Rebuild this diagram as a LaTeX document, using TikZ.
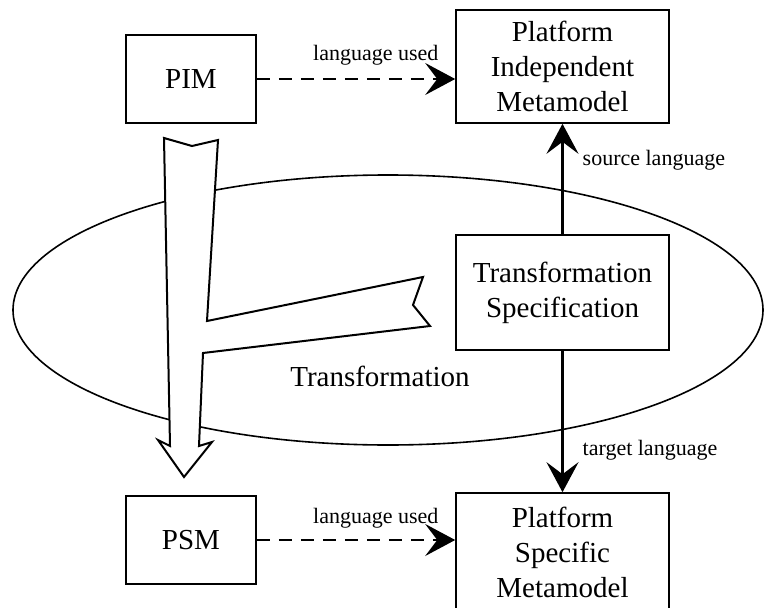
\documentclass[tikz,border=0pt]{standalone}
\usepackage{fontspec}
\setmainfont{Liberation Serif}
\usetikzlibrary{arrows.meta,shapes.geometric}

\tikzset{
  model/.style={draw, line width=1.6pt, minimum width=130pt, minimum height=88pt,
    font=\fontsize{29}{35}\selectfont},
  metamodel/.style={draw, line width=1.6pt, minimum width=213pt, align=center,
    font=\fontsize{29}{35}\selectfont},
  usedarrow/.style={line width=1.4pt, dash pattern=on 13pt off 9pt,
    -{Stealth[length=30pt,width=32pt,inset=12pt]}},
  langarrow/.style={line width=2.4pt, -{Stealth[length=30pt,width=32pt,inset=12pt]}},
  lbl/.style={font=\fontsize{22}{25}\selectfont, inner sep=3pt}
}

\begin{document}
\begin{tikzpicture}[x=1pt,y=-1pt]
\useasboundingbox (0,0) rectangle (764,608);
\clip (0,0) rectangle (764,608);

\node[ellipse, draw, line width=1.6pt, minimum width=750pt, minimum height=270pt] (trans) at (388,310) {};
\node[font=\fontsize{29}{35}\selectfont] (translbl) at (380,376) {Transformation};

\draw[line width=2pt, fill=white, line join=miter]
  (164,138) -- (192,146) -- (218,140) -- (207,321) -- (423,277) -- (413,305)
  -- (430,326) -- (203,353) -- (199,446) -- (212,442) -- (184,477)
  -- (158,440) -- (170,446) -- cycle;

\node[model] (pim) at (191,79) {PIM};
\node[model] (psm) at (191,540) {PSM};
\node[metamodel, minimum height=113pt] (pimm) at (562.5,66.5) {Platform\\Independent\\Metamodel};
\node[metamodel, minimum height=115pt] (spec) at (562.5,292.5) {Transformation\\Specification};
\node[metamodel, minimum height=119pt] (psmm) at (562.5,552.5) {Platform\\Specific\\Metamodel};

\draw[usedarrow] (pim) -- node[lbl, above, pos=0.6, yshift=10pt] {language used} (pim -| pimm.west);
\draw[usedarrow] (psm) -- node[lbl, above, pos=0.6, yshift=8pt] {language used} (psm -| psmm.west);
\draw[langarrow] (spec) -- node[lbl, right, pos=0.67, xshift=16pt] {source language} (pimm);
\draw[langarrow] (spec) -- node[lbl, right, pos=0.7, xshift=16pt] {target language} (psmm);

\end{tikzpicture}
\end{document}
